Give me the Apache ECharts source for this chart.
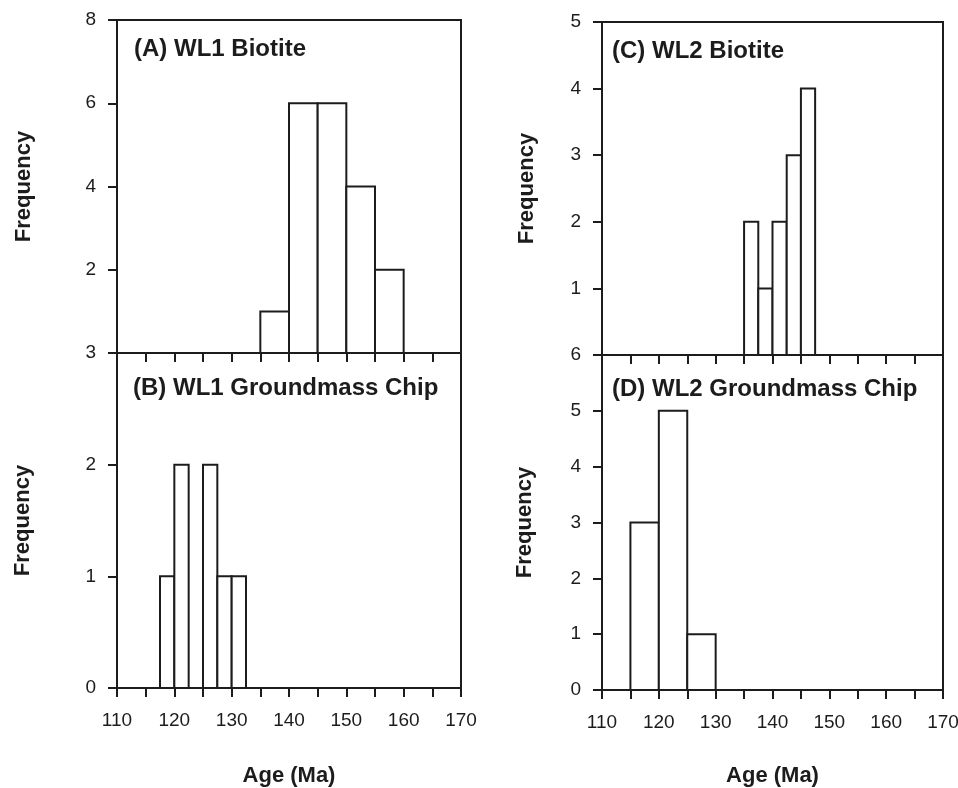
<!DOCTYPE html>
<html>
  <head>
    <meta charset="utf-8" />
    <title>Age Histograms WL1 / WL2</title>
    <script src="https://cdn.jsdelivr.net/npm/echarts@6.0.0/dist/echarts.min.js"></script>
    <style>
      body {
        margin: 0;
        padding: 0;
        background: #fff;
      }
      #main {
        width: 958px;
        height: 788px;
      }
    </style>
  </head>
  <body>
    <div id="main"></div>
    <script type="text/javascript">
      // bin edges (Ma) and counts per bin
      var edgesA = [135, 140, 145, 150, 155, 160];
      var countsA = [1, 6, 6, 4, 2];
      var edgesB = [117.5, 120, 122.5, 125, 127.5, 130, 132.5];
      var countsB = [1, 2, 0, 2, 1, 1];
      var edgesC = [135, 137.5, 140, 142.5, 145, 147.5];
      var countsC = [2, 1, 2, 3, 4];
      var edgesD = [115, 120, 125, 130];
      var countsD = [3, 5, 1];

      var titles = [
        "(A) WL1 Biotite",
        "(B) WL1 Groundmass Chip",
        "(C) WL2 Biotite",
        "(D) WL2 Groundmass Chip",
      ];
      var xName = "Age (Ma)";
      var yName = "Frequency";

      var ink = "#1c1c1c";
      var font = "Liberation Sans";

      function toBins(edges, counts) {
        var out = [];
        for (var i = 0; i < counts.length; i++) {
          out.push([edges[i], edges[i + 1], counts[i]]);
        }
        return out;
      }

      function renderBin(params, api) {
        var topLeft = api.coord([api.value(0), api.value(2)]);
        var bottomRight = api.coord([api.value(1), 0]);
        return {
          type: "rect",
          shape: {
            x: topLeft[0],
            y: topLeft[1],
            width: bottomRight[0] - topLeft[0],
            height: bottomRight[1] - topLeft[1],
          },
          style: { fill: "#fff", stroke: ink, lineWidth: 2 },
        };
      }

      function xAxis(idx, withLabels, gap) {
        return {
          type: "value",
          gridIndex: idx,
          min: 110,
          max: 170,
          interval: 5,
          splitLine: { show: false },
          axisLine: { lineStyle: { color: ink, width: 2 } },
          axisTick: { length: 9, lineStyle: { color: ink, width: 2 } },
          axisLabel: {
            show: withLabels,
            margin: 23,
            color: ink,
            fontFamily: font,
            fontSize: 19,
            formatter: function (v) {
              return v % 10 === 0 ? String(v) : "";
            },
          },
          name: withLabels ? xName : "",
          nameLocation: "middle",
          nameGap: gap,
          nameTextStyle: {
            color: ink,
            fontFamily: font,
            fontWeight: "bold",
            fontSize: 22,
          },
        };
      }

      function yAxis(idx, max, interval, hideMin, gap) {
        return {
          type: "value",
          gridIndex: idx,
          min: 0,
          max: max,
          interval: interval,
          splitLine: { show: false },
          axisLine: { lineStyle: { color: ink, width: 2 } },
          axisTick: { length: 9, lineStyle: { color: ink, width: 2 } },
          axisLabel: {
            showMinLabel: !hideMin,
            margin: 21,
            color: ink,
            fontFamily: font,
            fontSize: 19,
          },
          name: yName,
          nameLocation: "middle",
          nameGap: gap,
          nameTextStyle: {
            color: ink,
            fontFamily: font,
            fontWeight: "bold",
            fontSize: 22,
          },
        };
      }

      function series(idx, bins) {
        return {
          type: "custom",
          xAxisIndex: idx,
          yAxisIndex: idx,
          renderItem: renderBin,
          encode: { x: [0, 1], y: 2 },
          data: bins,
          silent: true,
        };
      }

      function title(text, left, top) {
        return {
          text: text,
          left: left,
          top: top,
          padding: 0,
          textStyle: {
            color: ink,
            fontFamily: font,
            fontWeight: "bold",
            fontSize: 24,
          },
        };
      }

      function grid(left, top, width, height) {
        return {
          left: left,
          top: top,
          width: width,
          height: height,
          outerBoundsMode: "none",
          containLabel: false,
          show: true,
          borderColor: ink,
          borderWidth: 2,
        };
      }

      var option = {
        backgroundColor: "#fff",
        animation: false,
        title: [
          title(titles[0], 134, 37),
          title(titles[1], 133, 376),
          title(titles[2], 612, 39),
          title(titles[3], 612, 377),
        ],
        grid: [
          grid(117, 20, 344, 333),
          grid(117, 353, 344, 335),
          grid(602, 22, 341, 333),
          grid(602, 355, 341, 335),
        ],
        xAxis: [
          xAxis(0, false, 0),
          xAxis(1, true, 77),
          xAxis(2, false, 0),
          xAxis(3, true, 75),
        ],
        yAxis: [
          yAxis(0, 8, 2, true, 82),
          yAxis(1, 3, 1, false, 83),
          yAxis(2, 5, 1, true, 64),
          yAxis(3, 6, 1, false, 66),
        ],
        series: [
          series(0, toBins(edgesA, countsA)),
          series(1, toBins(edgesB, countsB)),
          series(2, toBins(edgesC, countsC)),
          series(3, toBins(edgesD, countsD)),
        ],
      };

      var myChart = echarts.init(document.getElementById("main"));
      myChart.setOption(option);
    </script>
  </body>
</html>
